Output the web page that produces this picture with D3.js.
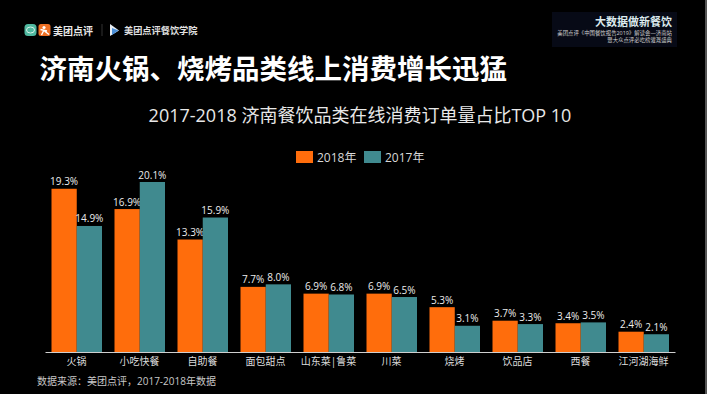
<!DOCTYPE html>
<html><head><meta charset="utf-8">
<style>html,body{margin:0;padding:0;background:#000;overflow:hidden}svg{display:block}
text{font-family:"Open Sans","Noto Sans CJK SC",sans-serif}</style>
<script src="https://cdn.jsdelivr.net/npm/d3@7"></script></head><body>
<svg id="c" width="707" height="394"></svg>
<script>
const categories=["火锅","小吃快餐","自助餐","面包甜点","山东菜|鲁菜","川菜","烧烤","饮品店","西餐","江河湖海鲜"];
const values2018=[19.3,16.9,13.3,7.7,6.9,6.9,5.3,3.7,3.4,2.4];
const values2017=[14.9,20.1,15.9,8.0,6.8,6.5,3.1,3.3,3.5,2.1];
const seriesNames=["2018年","2017年"];
const colors=["#ff6d0c","#408a8f"];
const svg=d3.select("#c");
const x0=d3.scaleBand().domain(categories).range([45,675]).paddingInner(0).paddingOuter(0);
const x1=d3.scaleBand().domain(seriesNames).range([6.5,57]);
const y=d3.scaleLinear().domain([0,20.1]).range([352,182]);
const series=[values2018,values2017];
series.forEach((vals,si)=>{
  const g=svg.append("g");
  g.selectAll("rect").data(vals).join("rect")
    .attr("x",(d,i)=>x0(categories[i])+x1(seriesNames[si]))
    .attr("y",d=>y(d)).attr("width",x1.bandwidth()).attr("height",d=>y(0)-y(d))
    .attr("fill",colors[si]);
  g.selectAll("text").data(vals).join("text")
    .attr("x",(d,i)=>x0(categories[i])+x1(seriesNames[si])+x1.bandwidth()/2)
    .attr("y",d=>y(d)-3.5).attr("text-anchor","middle")
    .attr("font-size",10).attr("fill","#ececec")
    .text(d=>d.toFixed(1)+"%");
});
const axis=d3.axisBottom(x0).tickSize(0).tickPadding(6);
const ax=svg.append("g").attr("transform","translate(0,352)").call(axis);
ax.select(".domain").attr("stroke","#cfcfcf").attr("stroke-width",1);
ax.selectAll("text").attr("fill","#dcdcdc").attr("font-size",10);
// titles
svg.append("text").attr("x",39.5).attr("y",78.5).attr("font-size",27.5).attr("font-weight",700).attr("fill","#fff").text("济南火锅、烧烤品类线上消费增长迅猛");
svg.append("text").attr("x",360).attr("y",122).attr("text-anchor","middle").attr("font-size",18).attr("fill","#e8e8e8").text("2017-2018 济南餐饮品类在线消费订单量占比TOP 10");
// legend
const lx=[296,364];
seriesNames.forEach((n,i)=>{
  svg.append("rect").attr("x",lx[i]).attr("y",151).attr("width",17).attr("height",12).attr("fill",colors[i]);
  svg.append("text").attr("x",lx[i]+21).attr("y",161.5).attr("font-size",12).attr("fill","#d8d8d8").text(n);
});
svg.append("text").attr("x",37).attr("y",385).attr("font-size",10).attr("fill","#c8c8c8").text("数据来源：美团点评，2017-2018年数据");
// logos
svg.append("rect").attr("x",24.5).attr("y",24).attr("width",12).attr("height",12).attr("rx",3.5).attr("fill","#4fb89f");
svg.append("ellipse").attr("cx",30.5).attr("cy",30).attr("rx",4).attr("ry",3).attr("fill","none").attr("stroke","#d8f0e8").attr("stroke-width",1);
svg.append("rect").attr("x",38.5).attr("y",24).attr("width",12).attr("height",12).attr("rx",2.5).attr("fill","#ee6f23");
svg.append("circle").attr("cx",44).attr("cy",27.5).attr("r",1.6).attr("fill","#fff");
svg.append("path").attr("d","M40.5 29.5 L47 31 M44 30 L41.5 35 M44.5 31 L49 34.5").attr("stroke","#fff").attr("stroke-width",1.4).attr("fill","none");
svg.append("text").attr("x",53).attr("y",34.5).attr("font-size",10).attr("font-weight",700).attr("fill","#e8e8e8").text("美团点评");
svg.append("line").attr("x1",102).attr("x2",102).attr("y1",24).attr("y2",36).attr("stroke","#333");
svg.append("path").attr("d","M110 24 L119 30.5 L110 36 Z").attr("fill","#e8eef5");
svg.append("path").attr("d","M112 28 L118.5 30.5 L112 35 Z").attr("fill","#4a8fd8");
svg.append("text").attr("x",124).attr("y",34).attr("font-size",9.2).attr("font-weight",700).attr("fill","#e0e0e0").text("美团点评餐饮学院");
// corner block
svg.append("rect").attr("x",552).attr("y",12).attr("width",125).attr("height",35).attr("fill","#070a16");
svg.append("text").attr("x",672).attr("y",26).attr("text-anchor","end").attr("font-size",11).attr("font-weight",700).attr("fill","#dcebee").text("大数据做新餐饮");
svg.append("text").attr("x",672).attr("y",34.5).attr("text-anchor","end").attr("font-size",5.4).attr("fill","#d0d0d0").text("美团点评《中国餐饮报告2019》解读会—济南站");
svg.append("text").attr("x",672).attr("y",41.5).attr("text-anchor","end").attr("font-size",5.4).attr("fill","#d0d0d0").text("暨大众点评必吃榜灌溉盛典");
// right edge of the slide
svg.append("rect").attr("x",705).attr("y",0).attr("width",2).attr("height",394).attr("fill","#555");
</script></body></html>
